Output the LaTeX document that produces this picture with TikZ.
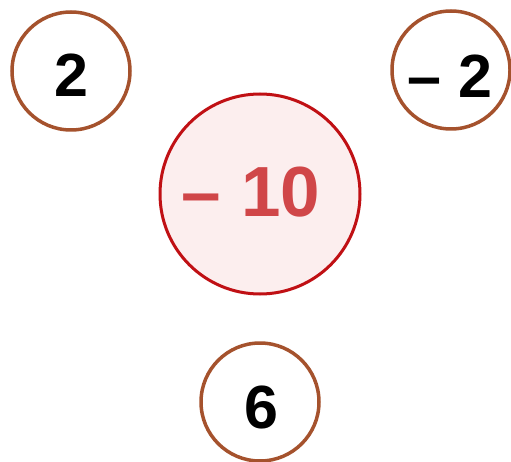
\documentclass[tikz,border=0pt]{standalone}
\usepackage{fontspec}
\setmainfont{Liberation Sans}
\begin{document}
\begin{tikzpicture}[x=1pt,y=-1pt,
  small/.style={circle,draw=smallring,line width=3.5pt,minimum size=118pt,inner sep=0pt},
  smalltext/.style={inner sep=0pt,font=\fontsize{61}{61}\selectfont\bfseries,text=black},
  big/.style={circle,draw=bigring,fill=bigfill,line width=3pt,minimum size=200pt,inner sep=0pt},
  bigtxt/.style={inner sep=0pt,font=\fontsize{71}{71}\selectfont\bfseries,text=bigtext}]
\definecolor{smallring}{RGB}{165,82,45}
\definecolor{bigring}{RGB}{192,16,20}
\definecolor{bigfill}{RGB}{252,238,238}
\definecolor{bigtext}{RGB}{208,70,72}
\useasboundingbox (0,0) rectangle (511,462);
\begin{scope}
\clip (0,0) rectangle (511,462);
\node[small] (a) at (71,71) {};
\node[small] (b) at (451,70) {};
\node[big] (c) at (260,194) {};
\node[small] (d) at (260,402) {};
\node[smalltext] (ta) at (71,75) {2};
\node[smalltext] (tb) at (450,76) {– 2};
\node[bigtxt] (tc) at (251,192) {– 10};
\node[smalltext] (td) at (261,407) {6};
\end{scope}
\end{tikzpicture}
\end{document}
